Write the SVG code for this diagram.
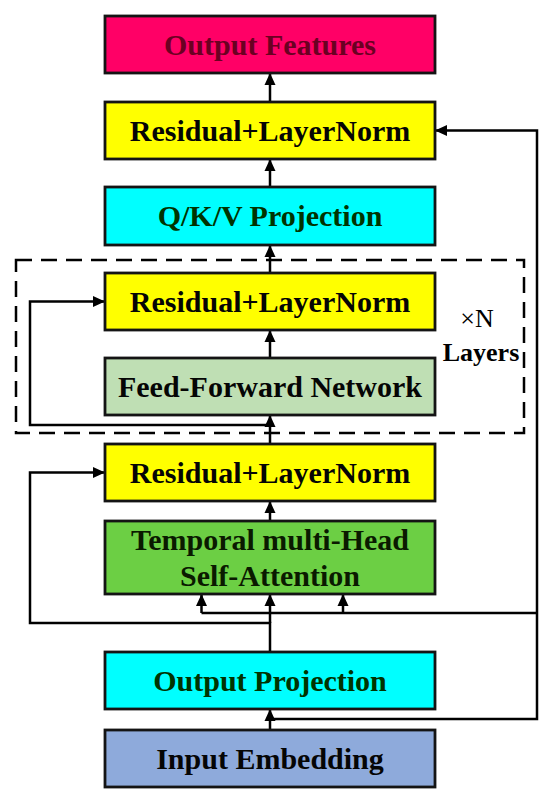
<svg xmlns="http://www.w3.org/2000/svg" width="550" height="797" viewBox="0 0 550 797">
<defs>
<marker id="arr" markerUnits="userSpaceOnUse" markerWidth="12" markerHeight="12" refX="12" refY="6" orient="auto">
<path d="M0,0.5 L12,6 L0,11.5 z" fill="#000"/>
</marker>
<style>
.box{stroke:#141414;stroke-width:2.8}
.t{font-family:"Liberation Serif","Times New Roman",serif;font-weight:bold;font-size:30px;text-anchor:middle;fill:#050505}
.c{fill:none;stroke:#000;stroke-width:2.5;marker-end:url(#arr)}
.l{fill:none;stroke:#000;stroke-width:2.5}
</style>
</defs>
<rect width="550" height="797" fill="#fff"/>
<g id="layers-group">
<rect x="16" y="260" width="508" height="173" fill="none" stroke="#000" stroke-width="2.5" stroke-dasharray="16 9"/>
<text x="477" y="327" style="font-family:'Liberation Serif','Times New Roman',serif;font-size:26px;text-anchor:middle;fill:#000">×N</text>
<text x="481" y="361" style="font-family:'Liberation Serif','Times New Roman',serif;font-weight:bold;font-size:26px;text-anchor:middle;fill:#000">Layers</text>
</g>
<g id="connectors">
<path class="c" d="M270,730 V709"/>
<path class="c" d="M270,719 H537 V130.5 H435"/>
<path class="c" d="M270,652 V623 H30 V472.5 H105"/>
<path class="l" d="M201.5,613 H537"/>
<path class="c" d="M201.5,613 V594"/>
<path class="c" d="M270,623 V594"/>
<path class="c" d="M343,613 V594"/>
<path class="c" d="M270,521 V501"/>
<path class="c" d="M270,444 V415"/>
<path class="c" d="M270,425 H30 V301.5 H105"/>
<path class="c" d="M270,358 V330"/>
<path class="c" d="M270,273 V245"/>
<path class="c" d="M270,187 V159"/>
<path class="c" d="M270,102 V73"/>
</g>
<g id="output-features">
<rect class="box" x="105" y="16" width="330" height="57" fill="#FF0066"/>
<text class="t" x="270" y="54.5" style="fill:#6B0022">Output Features</text>
</g>
<g id="residual-1">
<rect class="box" x="105" y="102" width="330" height="57" fill="#FFFF00"/>
<text class="t" x="270" y="140.5">Residual+LayerNorm</text>
</g>
<g id="qkv-projection">
<rect class="box" x="105" y="187" width="330" height="58" fill="#00FFFF"/>
<text class="t" x="270" y="226" style="fill:#003300">Q/K/V Projection</text>
</g>
<g id="residual-2">
<rect class="box" x="105" y="273" width="330" height="57" fill="#FFFF00"/>
<text class="t" x="270" y="311.5">Residual+LayerNorm</text>
</g>
<g id="feed-forward">
<rect class="box" x="105" y="358" width="330" height="57" fill="#BFDFB4"/>
<text class="t" x="270" y="396.5">Feed-Forward Network</text>
</g>
<g id="residual-3">
<rect class="box" x="105" y="444" width="330" height="57" fill="#FFFF00"/>
<text class="t" x="270" y="482.5">Residual+LayerNorm</text>
</g>
<g id="temporal-attention">
<rect class="box" x="105" y="521" width="330" height="73" fill="#6CCF44"/>
<text class="t" x="270" y="549.5" style="fill:#0A1A00">Temporal multi-Head</text>
<text class="t" x="270" y="585.5" style="fill:#0A1A00">Self-Attention</text>
</g>
<g id="output-projection">
<rect class="box" x="105" y="652" width="330" height="57" fill="#00FFFF"/>
<text class="t" x="270" y="690.5" style="fill:#003300">Output Projection</text>
</g>
<g id="input-embedding">
<rect class="box" x="105" y="730" width="330" height="57" fill="#8EAADB"/>
<text class="t" x="270" y="768.5">Input Embedding</text>
</g>
</svg>
